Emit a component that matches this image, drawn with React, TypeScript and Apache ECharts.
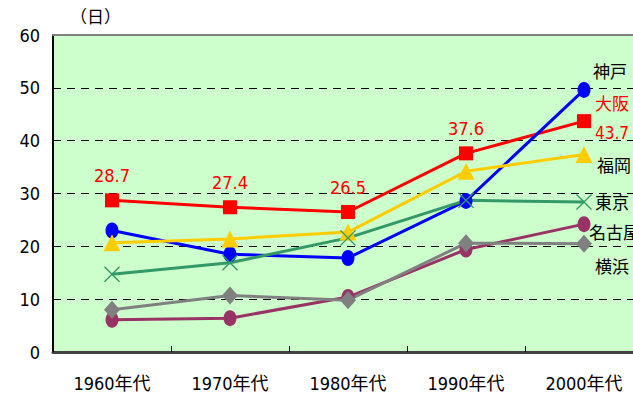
import React, { useEffect, useRef } from "react";
import * as echarts from "echarts";

const categories = ["1960年代", "1970年代", "1980年代", "1990年代", "2000年代"];
const osaka = [28.7, 27.4, 26.5, 37.6, 43.7];
const kobe = [23.0, 18.5, 17.8, 28.6, 49.6];
const fukuoka = [20.7, 21.4, 22.7, 34.2, 37.4];
const tokyo = [14.7, 16.9, 21.6, 28.7, 28.4];
const nagoya = [6.1, 6.4, 10.4, 19.4, 24.2];
const yokohama = [8.0, 10.7, 9.8, 20.6, 20.5];
const yTicks = { min: 0, max: 60, interval: 10 };
const unitLabel = "（日）";
const cityLabels = [
  { text: "神戸", x: 593, y: 72, color: "#000" },
  { text: "大阪", x: 595, y: 104, color: "#FF0000" },
  { text: "福岡", x: 597, y: 166, color: "#000" },
  { text: "東京", x: 595, y: 203, color: "#000" },
  { text: "名古屋", x: 589, y: 233, color: "#000" },
  { text: "横浜", x: 595, y: 267, color: "#000" },
];

const FONT = "'Liberation Sans Narrow', 'DejaVu Sans Condensed', 'Noto Sans CJK JP', sans-serif";
const CROSS =
  "path://M0,0.6 L0.6,0 L5,4.4 L9.4,0 L10,0.6 L5.6,5 L10,9.4 L9.4,10 L5,5.6 L0.6,10 L0,9.4 L4.4,5 Z";

export default function App() {
  const ref = useRef<HTMLDivElement>(null);
  useEffect(() => {
    if (!ref.current) return;
    const chart = echarts.init(ref.current, null, { renderer: "svg" });
    const line = (name: string, data: any[], color: string, symbol: string, size: any, extra: any = {}) => ({
      name,
      type: "line",
      data,
      symbol,
      symbolSize: size,
      lineStyle: { color, width: 3 },
      itemStyle: { color },
      ...extra,
    });
    const osakaData = osaka.map((v, i) =>
      i === osaka.length - 1
        ? { value: v, label: { show: true, position: "right", distance: 4, offset: [0, 12], fontSize: 17 } }
        : v
    );
    chart.setOption({
      animation: false,
      grid: {
        left: 53,
        right: 0,
        top: 35,
        bottom: 49,
        show: true,
        backgroundColor: "#CCFFCC",
        borderWidth: 0,
      },
      xAxis: [
        {
          type: "category",
          data: categories,
          boundaryGap: true,
          axisLine: { lineStyle: { color: "#404040", width: 3 } },
          axisTick: { show: true, inside: true, length: 6, lineStyle: { color: "#000", width: 1 } },
          axisLabel: { color: "#000", fontSize: 18, fontFamily: FONT, margin: 22 },
          splitLine: { show: false },
        },
        {
          type: "category",
          data: categories,
          position: "top",
          axisLine: { lineStyle: { color: "#808080", width: 2 } },
          axisTick: { show: false },
          axisLabel: { show: false },
        },
      ],
      yAxis: {
        type: "value",
        min: yTicks.min,
        max: yTicks.max,
        interval: yTicks.interval,
        axisLine: { show: true, lineStyle: { color: "#000", width: 2 } },
        axisTick: { show: false },
        axisLabel: { color: "#000", fontSize: 18, fontFamily: FONT, margin: 13 },
        splitLine: {
          show: true,
          showMinLine: false,
          showMaxLine: false,
          lineStyle: { color: "#000", width: 1, type: [8, 6] },
        },
      },
      series: [
        line("名古屋", nagoya, "#993366", "circle", [13, 16]),
        line("横浜", yokohama, "#808080", "diamond", [16, 18]),
        line("大阪", osakaData, "#FF0000", "rect", 14, {
          label: {
            show: true,
            position: "top",
            distance: 9,
            color: "#FF0000",
            fontSize: 18,
            fontFamily: FONT,
          },
        }),
        line("神戸", kobe, "#0000FF", "circle", [13, 16]),
        line("福岡", fukuoka, "#FFCC00", "triangle", 17),
        line("東京", tokyo, "#339966", CROSS, 16),
      ],
      graphic: [
        {
          type: "text",
          left: 70,
          top: 8,
          style: { text: unitLabel, fontSize: 17, fontFamily: FONT, fill: "#000" },
        },
        ...cityLabels.map((c) => ({
          type: "text",
          x: c.x,
          y: c.y,
          style: {
            text: c.text,
            fontSize: 17,
            fontFamily: FONT,
            fill: c.color,
            verticalAlign: "middle",
            align: "left",
          },
        })),
      ],
    });
    return () => chart.dispose();
  }, []);
  return (
    <div
      style={{ position: "absolute", left: 0, top: 0, width: 633, height: 401, overflow: "hidden", background: "#fff" }}
    >
      <div ref={ref} style={{ width: 643, height: 401 }} />
    </div>
  );
}
